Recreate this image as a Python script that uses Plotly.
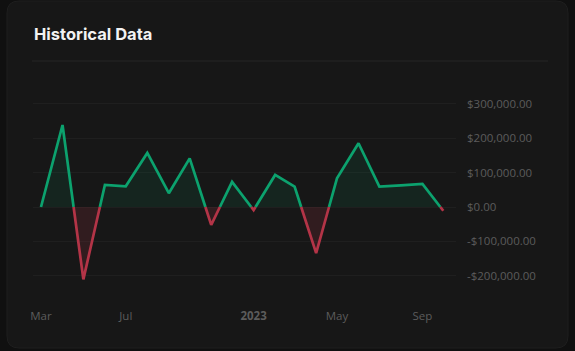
import plotly.graph_objects as go
import pandas as pd

# ---- data ----
months = ["2022-03-01", "2022-04-01", "2022-05-01", "2022-06-01", "2022-07-01",
          "2022-08-01", "2022-09-01", "2022-10-01", "2022-11-01", "2022-12-01",
          "2023-01-01", "2023-02-01", "2023-03-01", "2023-04-01", "2023-05-01",
          "2023-06-01", "2023-07-01", "2023-08-01", "2023-09-01", "2023-10-01"]
values = [0, 238000, -210000, 64000, 60000,
          157000, 40000, 141000, -52000, 73000,
          -9000, 93000, 59000, -134000, 83000,
          185000, 59000, 63000, 67000, -11000]
x_tick_vals = ["2022-03-01", "2022-07-01", "2023-01-01", "2023-05-01", "2023-09-01"]
x_tick_text = ["Mar", "Jul", "<b>2023</b>", "May", "Sep"]
y_tick_vals = [300000, 200000, 100000, 0, -100000, -200000]
y_tick_text = ["$300,000.00", "$200,000.00", "$100,000.00", "$0.00",
               "-$100,000.00", "-$200,000.00"]

GREEN = "#0ca26e"
RED = "#b33447"
GREEN_FILL = "rgba(12,162,110,0.10)"
RED_FILL = "rgba(179,52,71,0.17)"

# ---- split series at zero crossings ----
dates = pd.to_datetime(months)
aug_x, aug_y = [], []
for i in range(len(values)):
    aug_x.append(dates[i]); aug_y.append(values[i])
    if i < len(values) - 1:
        a, b = values[i], values[i + 1]
        if (a > 0 and b < 0) or (a < 0 and b > 0):
            t = a / (a - b)
            aug_x.append(dates[i] + (dates[i + 1] - dates[i]) * t)
            aug_y.append(0)

pos_line = [v if v >= 0 else None for v in aug_y]
neg_line = [v if v <= 0 else None for v in aug_y]
for k in range(len(aug_y)):
    if aug_y[k] == 0:
        prev_neg = k > 0 and aug_y[k - 1] < 0
        next_neg = k < len(aug_y) - 1 and aug_y[k + 1] < 0
        if not (prev_neg or next_neg):
            neg_line[k] = None
pos_fill = [max(v, 0) for v in aug_y]
neg_fill = [min(v, 0) for v in aug_y]

fig = go.Figure()
fig.add_trace(go.Scatter(x=aug_x, y=pos_fill, mode="lines", line=dict(width=0),
                         fill="tozeroy", fillcolor=GREEN_FILL, hoverinfo="skip"))
fig.add_trace(go.Scatter(x=aug_x, y=neg_fill, mode="lines", line=dict(width=0),
                         fill="tozeroy", fillcolor=RED_FILL, hoverinfo="skip"))
fig.add_trace(go.Scatter(x=aug_x, y=pos_line, mode="lines",
                         line=dict(color=GREEN, width=2.7), connectgaps=False))
fig.add_trace(go.Scatter(x=aug_x, y=neg_line, mode="lines",
                         line=dict(color=RED, width=2.7), connectgaps=False))

# ---- geometry helpers (pixel -> paper) ----
W, H = 575, 351
L, R, T, B = 33, 119, 85, 51
PW, PH = W - L - R, H - T - B
def px(x): return (x - L) / PW
def py(y): return (H - B - y) / PH

# card with rounded corners
x0, x1, y0, y1, r = 7, 568, 1, 348, 12
path = (f"M {px(x0+r)},{py(y0)} L {px(x1-r)},{py(y0)} Q {px(x1)},{py(y0)} {px(x1)},{py(y0+r)} "
        f"L {px(x1)},{py(y1-r)} Q {px(x1)},{py(y1)} {px(x1-r)},{py(y1)} "
        f"L {px(x0+r)},{py(y1)} Q {px(x0)},{py(y1)} {px(x0)},{py(y1-r)} "
        f"L {px(x0)},{py(y0+r)} Q {px(x0)},{py(y0)} {px(x0+r)},{py(y0)} Z")

fig.update_layout(
    width=W, height=H,
    margin=dict(l=L, r=R, t=T, b=B),
    paper_bgcolor="#101010",
    plot_bgcolor="rgba(0,0,0,0)",
    showlegend=False,
    shapes=[
        dict(type="path", path=path, xref="paper", yref="paper",
             fillcolor="#171717", line=dict(color="#1e1e1e", width=1), layer="below"),
        dict(type="line", xref="paper", yref="paper", x0=px(32), x1=px(548),
             y0=py(61), y1=py(61), line=dict(color="#262626", width=1), layer="below"),
    ],
    annotations=[
        dict(text="Historical Data", xref="paper", yref="paper", x=px(31.5), y=py(34),
             xanchor="left", yanchor="middle", showarrow=False,
             font=dict(family="Inter", size=16.5, color="#f2f2f2", weight=700)),
    ],
    xaxis=dict(
        range=["2022-02-17 12:00", "2023-10-19 07:00"],
        tickvals=x_tick_vals, ticktext=x_tick_text,
        showgrid=False, zeroline=False, showline=False,
        tickfont=dict(family="Open Sans", size=11.5, color="#5c5c5c"),
        ticklabelstandoff=7,
    ),
    yaxis=dict(
        side="right",
        range=[-269956, 354136],
        tickvals=y_tick_vals, ticktext=y_tick_text,
        showgrid=True, gridcolor="#1f1f1f", gridwidth=1,
        zeroline=False, showline=False,
        tickfont=dict(family="Open Sans", size=11.5, color="#5c5c5c"),
        ticklabelstandoff=10,
    ),
)

fig.write_html("out.html")
